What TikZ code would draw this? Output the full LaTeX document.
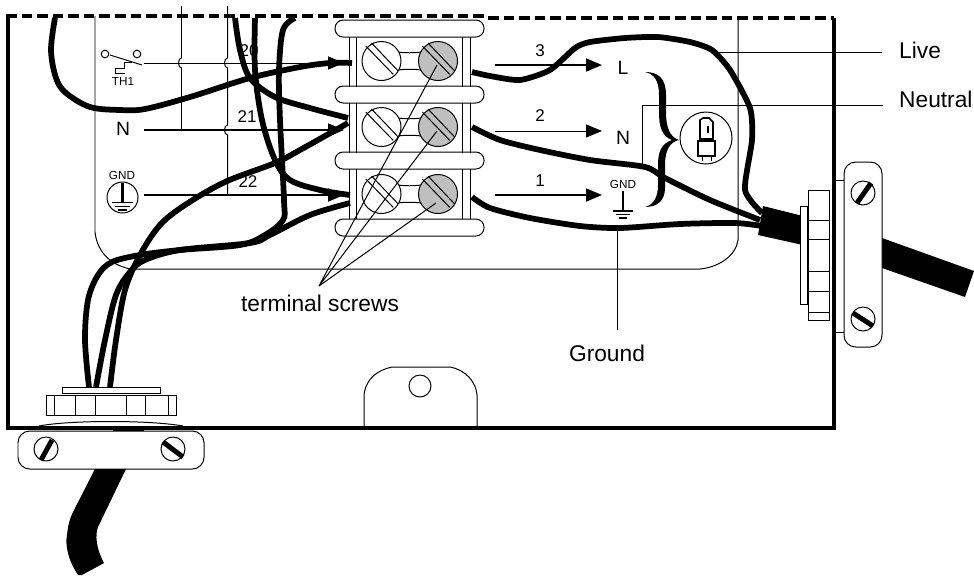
\documentclass[tikz,border=0pt]{standalone}
\usepackage{fontspec}
\setmainfont{Liberation Sans}
\usetikzlibrary{arrows.meta}
\tikzset{
    biglabel/.style = {inner sep=0, font=\fontsize{19.4pt}{22pt}\selectfont},
    midlabel/.style = {inner sep=0, font=\fontsize{14.5pt}{16pt}\selectfont},
    smalllabel/.style = {inner sep=0, font=\fontsize{10pt}{12pt}\selectfont},
    thinline/.style = {line width=0.85pt},
    wire/.style = {line width=4.9pt, line cap=butt},
    flow/.style = {line width=1.3pt, -{Triangle[length=13.5pt,width=11pt]}},
    pics/termscrew/.style n args = {1}{
        code = {
        \draw [thinline, fill=#1] (0,0) circle (19.5);
        \draw [thinline] (-15.7,-15)--(11.7,13.3);
        \draw [thinline] (-10,-18)--(16.7,10);
        }
    },
    pics/clampscrew/.style n args = {4}{
        code = {
        \draw [thinline] (0,0) circle (12);
        \draw [line width=4.2pt] (#1,#2)--(#3,#4);
        }
    }
}

\begin{document}
\begin{tikzpicture}[x=0.03cm, y=-0.03cm]
    \useasboundingbox (0,0) rectangle (974,575);

    % housing
    \draw [line width=2.6pt] (8,16)--(8,428)--(834,428)--(834,18);
    \draw [line width=3.4pt, dash pattern=on 9 off 4.3] (6,16)--(484,16);
    \draw [line width=3.4pt, dash pattern=on 9 off 4.3] (488,18)--(834,18);
    \draw [thinline] (95,16)--(95,232) .. controls (97,250) and (108,264) .. (130,269)--(700,269)
        .. controls (720,267) and (736,255) .. (738,240)--(738,18);
    \draw [thinline] (364,428)--(364,395) .. controls (366,378) and (378,370) .. (392,367)--(450,367)
        .. controls (466,370) and (476,382) .. (477,395)--(477,428);
    \draw [thinline] (420,386) circle (11);

    % crossing lines
    \draw [thinline] (181.5,6)--(181.5,58) arc (-90:-270:3 and 5)--(181.5,130);
    \draw [thinline] (227.5,6)--(227.5,58) arc (-90:-270:3 and 5)--(227.5,125)
        arc (-90:-270:3 and 5)--(227.5,195);

    % left symbols
    \draw [thinline] (105,54) circle (3.8);
    \draw [thinline] (137,54) circle (3.8);
    \draw [thinline] (110,55)--(142,65);
    \draw [thinline] (132,62)--(124,62)--(124,68)--(115,68)--(115,73)--(125,73);
    \node [smalllabel] (TH) at (123,81) {TH1};
    \node [biglabel, font=\fontsize{16.5pt}{18pt}\selectfont] (Nin) at (123,129) {N};
    \node [smalllabel] (GNDin) at (122,175) {GND};
    \draw [thinline] (122.5,197.5) circle (15.5);
    \draw [line width=2.4pt] (122.5,183)--(122.5,202);
    \draw [line width=1.2pt] (112,202.5)--(133,202.5);
    \draw [line width=1.2pt] (115,206.5)--(130,206.5);
    \draw [line width=1.2pt] (118,210)--(127,210);
    \node [midlabel] (n20) at (249,51) {20};
    \node [midlabel] (n21) at (247,117) {21};
    \node [midlabel] (n22) at (248,182) {22};

    \coordinate(THs) at (144,63);
    \coordinate(THe) at (344,63);
    \coordinate(Ns) at (144,130);
    \coordinate(Ne) at (344,130);
    \coordinate(GNDs) at (144,195);
    \coordinate(GNDe) at (344,195);
    \draw [flow, line width=0.85pt] (THs)--(THe);
    \draw [flow] (Ns)--(Ne);
    \draw [flow] (GNDs)--(GNDe);

    % terminal block
    \foreach \y in {28.5,94.5,160.5,227.5}
        \draw [thinline, rounded corners=7pt, fill=white] (335,\y-8.5) rectangle (484,\y+8.5);
    \foreach \x in {349.5,356,462.5,470}
        \foreach \y in {37,103,169}
            \draw [thinline] (\x,\y)--(\x,\y+49.5);
    \foreach \y in {61,127,194}{
        \draw [thinline] (398,\y-9) .. controls (405,\y-8) and (414,\y-8) .. (421,\y-9);
        \draw [thinline] (398,\y+9) .. controls (405,\y+8) and (414,\y+8) .. (421,\y+9);
        \path pic at (381.5,\y) {termscrew={white}};
        \path pic at (438,\y) {termscrew={black!25}};
    }

    % right side terminals
    \node [midlabel] (n3) at (540,51) {3};
    \node [midlabel] (n2) at (540,116) {2};
    \node [midlabel] (n1) at (540,181) {1};
    \node [midlabel, font=\fontsize{16.5pt}{18pt}\selectfont] (Lout) at (623,68) {L};
    \node [midlabel, font=\fontsize{16.5pt}{18pt}\selectfont] (Nout) at (623,138) {N};
    \node [smalllabel] (GNDout) at (623,184) {GND};
    \draw [line width=1.6pt] (623,191)--(623,211);
    \draw [line width=1.2pt] (613,211)--(633,211);
    \draw [line width=1.2pt] (616,214.5)--(630,214.5);
    \draw [line width=1.2pt] (619,218)--(627,218);

    \coordinate(Ls) at (495,65);
    \coordinate(Le) at (602,65);
    \coordinate(N2s) at (495,131);
    \coordinate(N2e) at (602,131);
    \coordinate(Gs) at (495,195);
    \coordinate(Ge) at (602,195);
    \draw [flow] (Ls)--(Le);
    \draw [flow, line width=0.85pt] (N2s)--(N2e);
    \draw [flow] (Gs)--(Ge);

    % brace and lamp
    \fill (645,72) .. controls (658,72) and (666,78) .. (666,95)--(666,112)
        .. controls (666,128) and (670,137) .. (679,140)
        .. controls (670,142) and (665,150) .. (665,165)--(665,188)
        .. controls (665,200) and (658,207) .. (645,207)
        .. controls (653,205) and (658,198) .. (658,185)--(658,165)
        .. controls (658,152) and (661,144) .. (672,140)
        .. controls (661,136) and (659,125) .. (659,112)--(659,95)
        .. controls (659,80) and (654,74) .. (645,72)--cycle;
    \draw [thinline] (706,138) circle (26);
    \draw [line width=1.3pt] (700,139)--(700,120)--(703,118)--(709,118)--(713,122)--(713,139)--cycle;
    \fill (707,126) rectangle (709,133);
    \draw [line width=1.3pt] (698,141) rectangle (715,156);
    \draw [thinline] (702,156)--(702,161);
    \draw [thinline] (711,156)--(711,161);

    % labels with leaders
    \node [biglabel, anchor=west] (Live) at (899,50) {Live};
    \node [biglabel, anchor=west] (Neutral) at (899,99) {Neutral};
    \node [biglabel] (Ground) at (607,353) {Ground};
    \node [biglabel] (Screws) at (320,303) {terminal screws};
    \coordinate(Lw) at (712,52);
    \coordinate(Le2) at (882,52);
    \coordinate(Nw) at (642,164);
    \coordinate(Ne2) at (883,105);
    \coordinate(Gw) at (617,228);
    \coordinate(Ge2) at (617,330);
    \coordinate(Apex) at (319,286);
    \coordinate(S1) at (437,65);
    \coordinate(S2) at (437,131);
    \coordinate(S3) at (436,203);
    \draw [thinline] (Lw)--(Le2);
    \draw [thinline] (Nw)--(642,105)--(Ne2);
    \draw [thinline] (Gw)--(Ge2);
    \draw [thinline] (S1)--(Apex)--(S2);
    \draw [thinline] (Apex)--(S3);

    % wires
    \draw [wire] plot [smooth, tension=0.55] coordinates {(55,18) (51,50) (56,78) (66,93) (90,107) (120,110) (145,109) (190,97) (250,78) (300,67) (330,63) (352,63)};
    \draw [wire] plot [smooth, tension=0.55] coordinates {(235,18) (240,50) (250,78) (275,97) (310,108) (348,118)};
    \draw [wire] plot [smooth, tension=0.55] coordinates {(255,18) (255,70) (262,120) (275,160) (290,180) (320,190) (350,195)};
    \draw [wire] plot [smooth, tension=0.55] coordinates {(295,18) (283,30) (279,70) (280,120) (284,200) (283,220) (265,235) (240,245) (180,250) (140,255) (112,262) (98,275) (88,300) (85,340) (89,387)};
    \draw [wire] plot [smooth, tension=0.55] coordinates {(348,123) (300,150) (275,163) (225,182) (185,205) (160,225) (140,255) (125,290) (116,340) (110,387)};
    \draw [wire] plot [smooth, tension=0.55] coordinates {(350,203) (310,215) (270,235) (250,243) (180,250) (145,260) (130,272) (116,295) (105,340) (96,387)};

    \draw [wire] plot [smooth, tension=0.4] coordinates {(472,72) (490,76) (520,80) (550,70) (575,48) (590,42) (625,38) (658,37) (690,42) (712,50) (730,70) (750,108) (752,140) (745,190) (762,213)};
    \draw [wire] plot [smooth, tension=0.45] coordinates {(472,127) (500,140) (540,150) (590,160) (645,167) (665,178) (710,200) (760,220)};
    \draw [wire] plot [smooth, tension=0.45] coordinates {(472,197) (490,208) (530,218) (580,226) (620,228) (680,224) (735,223) (762,226)};

    % right gland
    \fill (763,206)--(803,216)--(803,245)--(758,235)--cycle;
    \fill (882,238)--(974,271)--(965,297)--(882,268)--cycle;
    \draw [thinline, fill=white] (800,206) rectangle (807,304);
    \draw [thinline, fill=white] (808,190) rectangle (829,320);
    \foreach \y in {220,239,271,291,312}
        \draw [thinline] (808,\y)--(829,\y);
    \draw [thinline] (834,180) rectangle (845,332);
    \draw [thinline, rounded corners=10pt, fill=white] (844,162) rectangle (882,347);
    \path pic at (863,193) {clampscrew={-6}{10}{8}{-10}};
    \path pic at (863,319) {clampscrew={-10}{-6}{10}{7}};

    % lower gland
    \draw [thinline, fill=white] (62,387) rectangle (160,393);
    \draw [thinline, fill=white] (46,395) rectangle (176,415);
    \foreach \x in {54,75,95,126,145,168}
        \draw [thinline] (\x,395)--(\x,415);
    \draw [thinline] (39,426) .. controls (70,420) and (150,420) .. (183,426);
    \draw [thinline] (39,426)--(39,428);
    \draw [thinline] (183,426)--(183,428);
    \fill (113,427) rectangle (144,431);
    \draw [thinline, rounded corners=10pt, fill=white] (18,431) rectangle (204,469);
    \path pic at (46,449) {clampscrew={-5}{11}{6}{-9}};
    \path pic at (173,449) {clampscrew={-10}{-7}{10}{8}};
    \fill (95,469)--(126,469)--(98,527) .. controls (95,535) and (96,548) .. (104,563)
        --(82,575)--(78,575) .. controls (68,560) and (65,545) .. (67,535)
        .. controls (68,525) and (70,518) .. (73,512)--cycle;
\end{tikzpicture}
\end{document}
